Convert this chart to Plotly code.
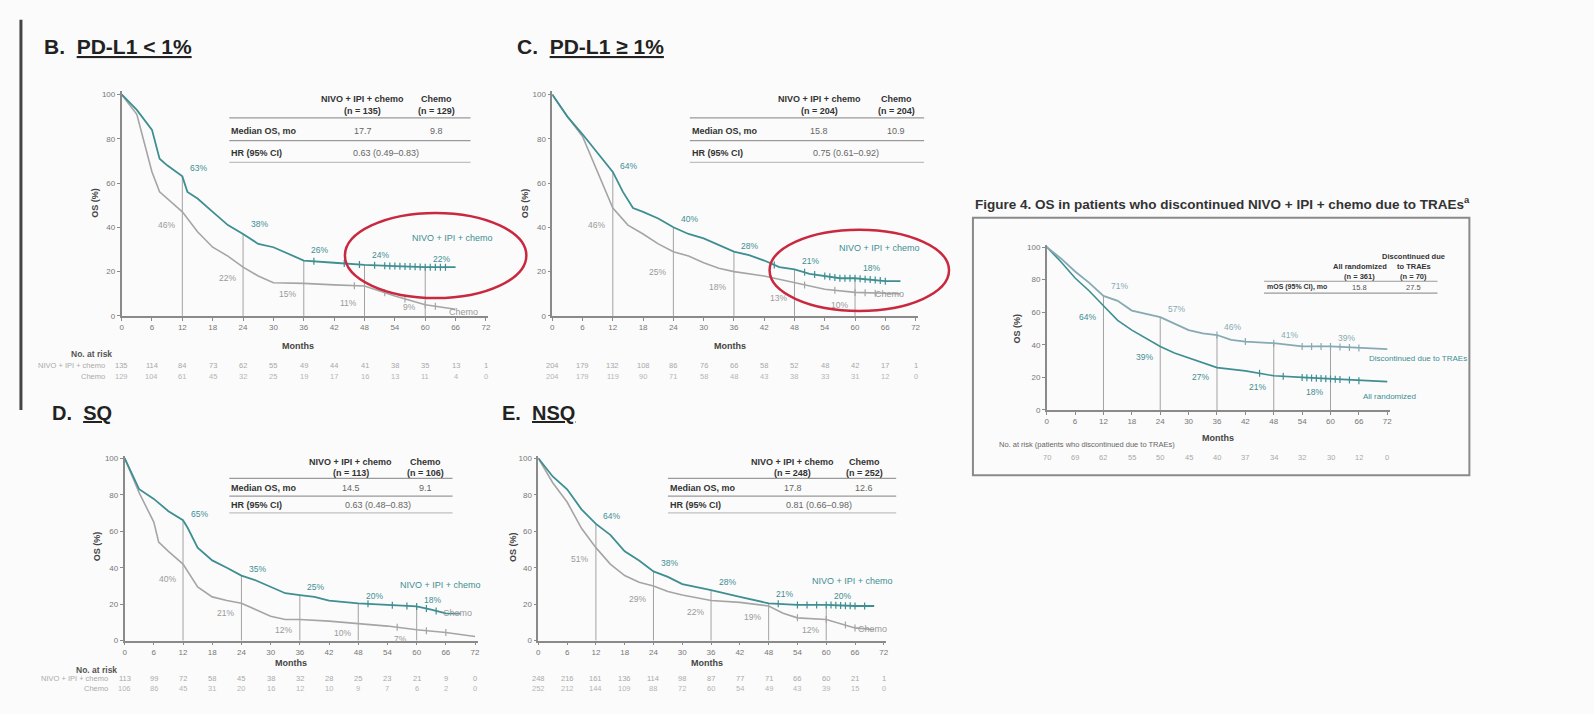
import plotly.graph_objects as go
import numpy as np

W, H = 1594, 714


def px(x):
    return x / W


def py(y):
    return 1 - y / H


TICKS = list(range(0, 73, 6))
YTICKS = [0, 20, 40, 60, 80, 100]
LANDMARKS = [12, 24, 36, 48, 60]
TEAL = '#3e8e92'
GRAY = '#a5a5a5'

# ---------------- data ----------------
# Panel B: PD-L1 < 1%
B_t_nivo = [0, 3, 6, 7.5, 9, 12, 13, 15, 18, 21, 24, 27, 30, 33, 36, 42, 48, 54, 60, 66]
B_nivo = [100, 93, 84, 71, 68, 63, 56, 53, 47, 41, 37, 32.5, 31, 28, 25, 24, 23, 22.5, 22, 22]
B_t_chemo = [0, 3, 6, 7.5, 12, 15, 18, 21, 24, 27, 30, 36, 42, 48, 54, 60, 66]
B_chemo = [100, 91, 65, 56, 47, 38, 31, 27, 22, 18, 15, 14.7, 14, 13.5, 9, 5, 3]
B_lab_nivo = [63, 38, 26, 24, 22]
B_lab_chemo = [46, 22, 15, 11, 9]
B_cens_nivo = [38, 44, 47, 50, 52, 53, 54, 55, 56, 57, 58, 59, 60, 61, 62, 63, 64]
B_cens_chemo = [46, 52, 56, 60, 62]
B_risk_nivo = [135, 114, 84, 73, 62, 55, 49, 44, 41, 38, 35, 13, 1]
B_risk_chemo = [129, 104, 61, 45, 32, 25, 19, 17, 16, 13, 11, 4, 0]
B_table = ['135', '129', '17.7', '9.8', '0.63 (0.49–0.83)']

# Panel C: PD-L1 >= 1%
C_t_nivo = [0, 3, 6, 9, 12, 14, 16, 18, 21, 24, 27, 30, 33, 36, 39, 42, 45, 48, 51, 54, 57, 60, 63, 66, 69]
C_nivo = [100, 90, 82, 73.6, 65, 56, 48.7, 47, 44, 40, 37, 35, 32, 29, 27.4, 25, 22, 21, 19, 18, 17, 17, 16.4, 15.7, 15.7]
C_t_chemo = [0, 3, 6, 9, 12, 15, 18, 21, 24, 27, 30, 33, 36, 42, 48, 54, 60, 66, 69]
C_chemo = [100, 90, 81, 65, 48.7, 41, 37, 32.5, 29, 27, 24, 21.5, 20, 18, 15, 12, 10.6, 10, 10]
C_lab_nivo = [64, 40, 28, 21, 18]
C_lab_chemo = [46, 25, 18, 13, 10]
C_cens_nivo = [44, 50, 52, 54, 55, 56, 57, 58, 59, 60, 61, 62, 63, 64, 65, 66]
C_cens_chemo = [50, 56, 60, 62, 64]
C_risk_nivo = [204, 179, 132, 108, 86, 76, 66, 58, 52, 48, 42, 17, 1]
C_risk_chemo = [204, 179, 119, 90, 71, 58, 48, 43, 38, 33, 31, 12, 0]
C_table = ['204', '204', '15.8', '10.9', '0.75 (0.61–0.92)']

# Panel D: SQ
D_t_nivo = [0, 3, 6, 9, 12, 13, 15, 18, 21, 24, 27, 30, 33, 36, 39, 42, 48, 54, 60, 63, 66, 69]
D_nivo = [100, 83, 77.7, 71, 66, 61.6, 51, 44, 40, 35.7, 33, 29.5, 26, 25, 24, 22, 20.5, 19.6, 18.75, 17, 15, 14.8]
D_t_chemo = [0, 3, 6, 7, 9, 12, 15, 18, 21, 24, 27, 30, 33, 36, 42, 48, 54, 60, 66, 72]
D_chemo = [100, 81, 65, 54, 49, 42, 29.5, 24, 22, 20.5, 17, 13.4, 11.6, 11.6, 10.7, 9.5, 8, 6, 4.5, 2.3]
D_lab_nivo = [65, 35, 25, 20, 18]
D_lab_chemo = [40, 21, 12, 10, 7]
D_cens_nivo = [50, 55, 58, 60, 62, 64]
D_cens_chemo = [56, 62, 66]
D_risk_nivo = [113, 99, 72, 58, 45, 38, 32, 28, 25, 23, 21, 9, 0]
D_risk_chemo = [106, 86, 45, 31, 20, 16, 12, 10, 9, 7, 6, 2, 0]
D_table = ['113', '106', '14.5', '9.1', '0.63 (0.48–0.83)']

# Panel E: NSQ
E_t_nivo = [0, 3, 6, 9, 12, 15, 18, 21, 24, 27, 30, 33, 36, 42, 48, 54, 60, 66, 70]
E_nivo = [100, 90, 83, 72, 64, 58, 49, 44, 38, 35, 31, 29.5, 27.7, 24, 20.5, 19.6, 19.6, 19, 19]
E_t_chemo = [0, 3, 6, 9, 12, 15, 18, 21, 24, 27, 30, 36, 42, 48, 51, 54, 60, 66, 70]
E_chemo = [100, 86.6, 76, 61.6, 51, 42, 35.7, 32, 30, 27, 25, 22, 21, 19, 15, 12.5, 11.6, 7, 6]
E_lab_nivo = [64, 38, 28, 21, 20]
E_lab_chemo = [51, 29, 22, 19, 12]
E_cens_nivo = [50, 54, 56, 58, 60, 61, 62, 63, 64, 65, 66, 68]
E_cens_chemo = [54, 60, 64, 66]
E_risk_nivo = [248, 216, 161, 136, 114, 98, 87, 77, 71, 66, 60, 21, 1]
E_risk_chemo = [252, 212, 144, 109, 88, 72, 60, 54, 49, 43, 39, 15, 0]
E_table = ['248', '252', '17.8', '12.6', '0.81 (0.66–0.98)']

# Figure 4: discontinued due to TRAEs vs all randomized
F_t_up = [0, 3, 6, 9, 12, 15, 18, 21, 24, 27, 30, 33, 36, 39, 42, 48, 51, 54, 60, 66, 72]
F_up = [100, 93, 85, 78, 70, 67, 61, 59, 57, 53, 49, 47, 46, 43, 42, 41, 40, 39, 39, 38, 37.4]
F_t_low = [0, 3, 6, 9, 12, 15, 18, 21, 24, 27, 30, 33, 36, 42, 48, 54, 60, 66, 72]
F_low = [100, 91, 81, 73, 64, 55, 49, 44, 39, 35, 32, 29, 26, 24, 21, 20, 19, 18, 17.4]
F_lab_up = [71, 57, 46, 41, 39]
F_lab_low = [64, 39, 27, 21, 18]
F_cens_up = [36, 42, 48, 54, 56, 58, 60, 62, 64, 66]
F_cens_low = [45, 50, 54, 55, 56, 57, 58, 59, 60, 61, 62, 64, 66]
F_risk = [70, 69, 62, 55, 50, 45, 40, 37, 34, 32, 30, 12, 0]

# ---------------- layout helpers ----------------
fig = go.Figure()
ann = []
shapes = []
layout = {}

panels = [
    dict(dom=((120, 488), (90, 317)), a=(B_t_nivo, B_nivo), b=(B_t_chemo, B_chemo),
         la=B_lab_nivo, lb=B_lab_chemo, ca=B_cens_nivo, cb=B_cens_chemo,
         ra=B_risk_nivo, rb=B_risk_chemo, ca_col=TEAL, cb_col=GRAY),
    dict(dom=((552, 919), (90, 317)), a=(C_t_nivo, C_nivo), b=(C_t_chemo, C_chemo),
         la=C_lab_nivo, lb=C_lab_chemo, ca=C_cens_nivo, cb=C_cens_chemo,
         ra=C_risk_nivo, rb=C_risk_chemo, ca_col=TEAL, cb_col=GRAY),
    dict(dom=((123, 477), (458, 645)), a=(D_t_nivo, D_nivo), b=(D_t_chemo, D_chemo),
         la=D_lab_nivo, lb=D_lab_chemo, ca=D_cens_nivo, cb=D_cens_chemo,
         ra=D_risk_nivo, rb=D_risk_chemo, ca_col=TEAL, cb_col=GRAY),
    dict(dom=((538, 887), (458, 645)), a=(E_t_nivo, E_nivo), b=(E_t_chemo, E_chemo),
         la=E_lab_nivo, lb=E_lab_chemo, ca=E_cens_nivo, cb=E_cens_chemo,
         ra=E_risk_nivo, rb=E_risk_chemo, ca_col=TEAL, cb_col=GRAY),
    dict(dom=((1048, 1392), (245, 412)), a=(F_t_up, F_up), b=(F_t_low, F_low),
         la=F_lab_up, lb=F_lab_low, ca=F_cens_up, cb=F_cens_low,
         ra=F_risk, rb=None, ca_col='#86aab3', cb_col=TEAL),
]

AXCOL = '#8a8a8a'
TXT = '#555555'
FONT = 'Liberation Sans, Arial, sans-serif'


def tx(x, y, text, size=7, color=TXT, bold=False, xanchor='center', yanchor='middle',
       xref='paper', yref='paper', textangle=0, xshift=0, yshift=0):
    if bold:
        text = '<b>' + text + '</b>'
    if xref == 'paper':
        x = px(x)
    if yref == 'paper':
        y = py(y)
    ann.append(dict(x=x, y=y, xref=xref, yref=yref, text=text, showarrow=False,
                    font=dict(size=size, color=color, family=FONT),
                    xanchor=xanchor, yanchor=yanchor, textangle=textangle,
                    xshift=xshift, yshift=yshift))


def hline(x0, x1, y, color='#9a9a9a', width=1.2):
    shapes.append(dict(type='line', xref='paper', yref='paper', x0=px(x0), x1=px(x1),
                       y0=py(y), y1=py(y), line=dict(color=color, width=width)))


for i, p in enumerate(panels):
    idx = i + 1
    xs = '' if idx == 1 else str(idx)
    xr, yr = 'x' + xs, 'y' + xs
    (x0, x1), (y0, y1) = p['dom']
    tickfont = dict(size=8, color='#777', family=FONT)
    layout['xaxis' + xs] = dict(domain=[px(x0), px(x1)], range=[0, 72.5], tickvals=TICKS,
                                anchor=yr, showline=True, linecolor=AXCOL, linewidth=1.5,
                                ticks='outside', ticklen=3, tickcolor=AXCOL,
                                tickfont=tickfont, showgrid=False, zeroline=False)
    layout['yaxis' + xs] = dict(domain=[py(y1), py(y0)], range=[0, 101.5], tickvals=YTICKS,
                                anchor=xr, showline=True, linecolor=AXCOL, linewidth=1.5,
                                ticks='outside', ticklen=3, tickcolor=AXCOL,
                                tickfont=tickfont, showgrid=False, zeroline=False)
    ta, va = p['a']
    tb, vb = p['b']
    # landmark drop lines
    for t in LANDMARKS:
        top = float(np.interp(t, ta, va))
        shapes.append(dict(type='line', xref=xr, yref=yr, x0=t, x1=t, y0=0, y1=top,
                           line=dict(color='#8c8c8c', width=0.8), layer='below'))
    fig.add_trace(go.Scatter(x=tb, y=vb, mode='lines', xaxis=xr, yaxis=yr,
                             line=dict(color=p['cb_col'], width=1.6), showlegend=False))
    fig.add_trace(go.Scatter(x=ta, y=va, mode='lines', xaxis=xr, yaxis=yr,
                             line=dict(color=p['ca_col'], width=1.8), showlegend=False))
    # censor marks
    for cens, tt, vv, col in ((p['ca'], ta, va, p['ca_col']), (p['cb'], tb, vb, p['cb_col'])):
        fig.add_trace(go.Scatter(x=cens, y=list(np.interp(cens, tt, vv)), mode='markers',
                                 xaxis=xr, yaxis=yr, showlegend=False,
                                 marker=dict(symbol='line-ns-open', size=5, color=col,
                                             line=dict(color=col, width=1.2))))
    # landmark labels
    for t, v in zip(LANDMARKS, p['la']):
        tx(t, v, f'{v}%', size=8.5, color=p['ca_col'], xref=xr, yref=yr, xshift=16, yshift=8)
    for t, v in zip(LANDMARKS, p['lb']):
        col = '#9a9a9a' if i < 4 else TEAL
        tx(t, v, f'{v}%', size=8.5, color=col, xref=xr, yref=yr, xshift=-16, yshift=-11)

# number at risk rows
risk_rows = [(0, 367, 378), (1, 367, 378), (2, 683, 693), (3, 683, 693), (4, 460, None)]
for i, ya_, yb_ in risk_rows:
    idx = i + 1
    xr = 'x' if idx == 1 else 'x' + str(idx)
    for t, n in zip(TICKS, panels[i]['ra']):
        tx(t, ya_, str(n), size=7.5, color='#a8a8a8', xref=xr)
    if panels[i]['rb'] is not None and yb_ is not None:
        for t, n in zip(TICKS, panels[i]['rb']):
            tx(t, yb_, str(n), size=7.5, color='#b5b5b5', xref=xr)

# ---------------- texts ----------------
tx(40, 45, 'B.&nbsp; <u>PD-L1 &lt; 1%</u>', size=21, color='#222', bold=True, xanchor='left')
tx(515, 45, 'C.&nbsp; <u>PD-L1 ≥ 1%</u>', size=21, color='#222', bold=True, xanchor='left')
tx(48, 415, 'D.&nbsp; <u>SQ</u>', size=20, color='#222', bold=True, xanchor='left')
tx(500, 415, 'E.&nbsp; <u>NSQ</u>', size=20, color='#222', bold=True, xanchor='left')
tx(974, 203, 'Figure 4. OS in patients who discontinued NIVO + IPI + chemo due to TRAEs<sup>a</sup>',
   size=13.5, color='#333', bold=True, xanchor='left')

# axis titles
for (xm, ym), (xo, yo) in [((297, 347), (93, 203)), ((730, 347), (525, 203)),
                           ((290, 668), (95, 550)), ((707, 668), (512, 550)),
                           ((1220, 440), (1018, 330))]:
    tx(xm, ym, 'Months', size=9, color='#444', bold=True)
    tx(xo, yo, 'OS (%)', size=9, color='#444', bold=True, textangle=-90)

# no. at risk labels
tx(90, 355, 'No. at risk', size=8.5, color='#555', bold=True)
tx(105, 367, 'NIVO + IPI + chemo', size=7.5, color='#aaa', xanchor='right')
tx(105, 378, 'Chemo', size=7.5, color='#aaa', xanchor='right')
tx(95, 675, 'No. at risk', size=8.5, color='#555', bold=True)
tx(108, 683, 'NIVO + IPI + chemo', size=7.5, color='#aaa', xanchor='right')
tx(108, 693, 'Chemo', size=7.5, color='#aaa', xanchor='right')
tx(998, 447, 'No. at risk (patients who discontinued due to TRAEs)', size=7.5, color='#666',
   xanchor='left')

# curve legends
for (xa, ya), (xb, yb) in [((452, 238), (463, 313)), ((880, 248), (890, 295)),
                           ((440, 589), (457, 617)), ((853, 585), (873, 633))]:
    tx(xa, ya, 'NIVO + IPI + chemo', size=9, color=TEAL)
    tx(xb, yb, 'Chemo', size=9, color='#999')
tx(1420, 360, 'Discontinued due to TRAEs', size=8, color=TEAL)
tx(1392, 398, 'All randomized', size=8, color=TEAL)


# tables
def table(left, right, c1, c2, chr_, ys, vals):
    h1, h2, l1, med, l2, hr, l3 = ys
    fs = 9
    tx(c1, h1, 'NIVO + IPI + chemo', size=fs, color='#333', bold=True)
    tx(c2, h1, 'Chemo', size=fs, color='#333', bold=True)
    tx(c1, h2, f'(n = {vals[0]})', size=fs, color='#333', bold=True)
    tx(c2, h2, f'(n = {vals[1]})', size=fs, color='#333', bold=True)
    hline(left, right, l1)
    tx(left, med, 'Median OS, mo', size=fs, color='#333', bold=True, xanchor='left')
    tx(c1, med, vals[2], size=fs, color='#666')
    tx(c2, med, vals[3], size=fs, color='#666')
    hline(left, right, l2)
    tx(left, hr, 'HR (95% CI)', size=fs, color='#333', bold=True, xanchor='left')
    tx(chr_, hr, vals[4], size=fs, color='#666')
    hline(left, right, l3, color='#c0c0c0')


table(228, 470, 362, 436, 385, (98, 110, 117, 130, 140, 152, 162), B_table)
table(690, 925, 820, 897, 847, (98, 110, 117, 130, 140, 152, 162), C_table)
table(228, 452, 350, 425, 377, (465, 476, 481, 491, 499, 508, 516), D_table)
table(668, 897, 793, 865, 820, (465, 476, 481, 491, 499, 508, 516), E_table)

# figure 4 table
tx(1362, 267, 'All randomized', size=7.5, color='#333', bold=True)
tx(1362, 277, '(n = 361)', size=7.5, color='#333', bold=True)
tx(1416, 257, 'Discontinued due', size=7.5, color='#333', bold=True)
tx(1416, 267, 'to TRAEs', size=7.5, color='#333', bold=True)
tx(1416, 277, '(n = 70)', size=7.5, color='#333', bold=True)
hline(1266, 1440, 282)
tx(1267, 288, 'mOS (95% CI), mo', size=7, color='#333', bold=True, xanchor='left')
tx(1362, 288, '15.8', size=7.5, color='#555')
tx(1416, 288, '27.5', size=7.5, color='#555')
hline(1266, 1440, 294)

# frames / decorations
shapes.append(dict(type='line', xref='paper', yref='paper', x0=px(19), x1=px(19),
                   y0=py(18), y1=py(412), line=dict(color='#444', width=3)))
shapes.append(dict(type='rect', xref='paper', yref='paper', x0=px(974), x1=px(1472),
                   y0=py(478), y1=py(218), line=dict(color='#8a8a8a', width=2)))
# red highlight ellipses
shapes.append(dict(type='circle', xref='paper', yref='paper', x0=px(344), x1=px(526),
                   y0=py(299), y1=py(213), line=dict(color='#c9283e', width=2.5)))
shapes.append(dict(type='circle', xref='paper', yref='paper', x0=px(770), x1=px(950),
                   y0=py(312), y1=py(230), line=dict(color='#c9283e', width=2.5)))

fig.update_layout(width=W, height=H, autosize=False, margin=dict(l=0, r=0, t=0, b=0),
                  paper_bgcolor='#fbfbfb', plot_bgcolor='rgba(0,0,0,0)',
                  annotations=ann, shapes=shapes, showlegend=False,
                  font=dict(family=FONT), **layout)
fig.write_html('out.html')
